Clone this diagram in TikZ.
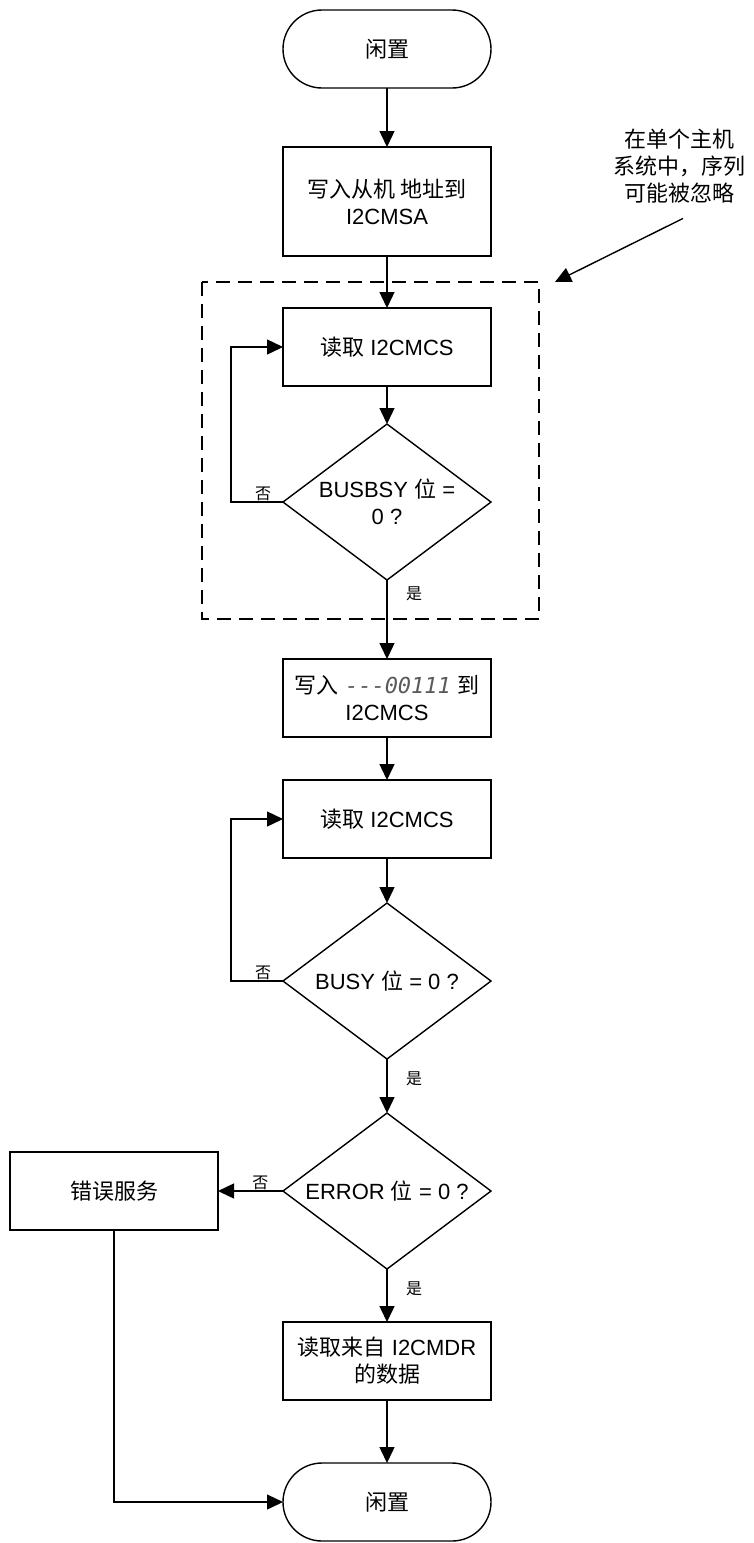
\documentclass[tikz,border=0pt]{standalone}
\usepackage{fontspec}
\setmainfont{Liberation Sans}
\newfontfamily\cjk{Noto Sans CJK SC}
\newfontfamily\codefont{DejaVu Sans Mono}
\usetikzlibrary{arrows.meta,positioning,shapes.geometric}
\usepackage{xcolor}
\definecolor{codegray}{HTML}{5A5A5A}
\newcommand{\zh}[1]{{\cjk #1}}

\begin{document}
\begin{tikzpicture}[x=1pt,y=-1pt,line width=1.4pt,
every node/.style={font=\fontsize{22}{27}\selectfont,align=center,outer sep=0pt},
term/.style={draw,rounded corners=39pt,minimum width=208pt,minimum height=78pt},
proc/.style={draw,minimum width=208pt,minimum height=78pt},
test/.style={draw,diamond,aspect=1.333,inner sep=0pt,minimum width=208pt,minimum height=156pt},
lbl/.style={font=\fontsize{16}{18}\selectfont,inner sep=1pt},
flow/.style={draw,-{Triangle[length=16pt,width=15pt]}},
group/.style={draw,dash pattern=on 14pt off 8pt}]
\useasboundingbox (0,0) rectangle (754,1543);
\node[term] (idle) at (387,49) {\zh{闲置}};
\node[proc,minimum height=109pt,below=59pt of idle] (wsa) {\zh{写入从机 地址到}\\I2CMSA};
\node[proc,below=52pt of wsa] (rd1) {\zh{读取} I2CMCS};
\node[test,below=38pt of rd1] (bsy1) {BUSBSY \zh{位} =\\0 ?};
\node[proc,below=79pt of bsy1] (wcs) {\zh{写入} {\codefont\itshape\color{codegray}{-}{-}{-}00111} \zh{到}\\I2CMCS};
\node[proc,below=43pt of wcs] (rd2) {\zh{读取} I2CMCS};
\node[test,below=45pt of rd2] (bsy2) {BUSY \zh{位} = 0 ?};
\node[test,below=54pt of bsy2] (err) {ERROR \zh{位} = 0 ?};
\node[proc,below=53pt of err] (rdd) {\zh{读取来自} I2CMDR\\\zh{的数据}};
\node[proc,left=65pt of err] (srv) {\zh{错误服务}};
\node[term,below=63pt of rdd] (done) {\zh{闲置}};
% single master note
\node (note) at (679,166) {\zh{在单个主机}\\\zh{系统中，序列}\\\zh{可能被忽略}};
\coordinate (tip) at (555,282);
\draw[group] (202,282) rectangle (539,619);
% connectors
\draw[flow] (idle) -- (wsa);
\draw[flow] (wsa) -- (rd1);
\draw[flow] (rd1) -- (bsy1);
\draw[flow] (bsy1.west) -- node[lbl,above,pos=0.38]{\zh{否}} ++(-52pt,0) |- (rd1.west);
\draw[flow] (bsy1) -- node[lbl,right=18pt,pos=0.17]{\zh{是}} (wcs);
\draw[flow] (wcs) -- (rd2);
\draw[flow] (rd2) -- (bsy2);
\draw[flow] (bsy2.west) -- node[lbl,above,pos=0.38]{\zh{否}} ++(-52pt,0) |- (rd2.west);
\draw[flow] (bsy2) -- node[lbl,right=18pt,pos=0.37]{\zh{是}} (err);
\draw[flow] (err) -- node[lbl,above,pos=0.35]{\zh{否}} (srv);
\draw[flow] (err) -- node[lbl,right=18pt,pos=0.37]{\zh{是}} (rdd);
\draw[flow] (rdd) -- (done);
\draw[flow] (srv) |- (done);
\draw[flow] ([xshift=4pt,yshift=-12pt]note.south) -- (tip);
\end{tikzpicture}
\end{document}
